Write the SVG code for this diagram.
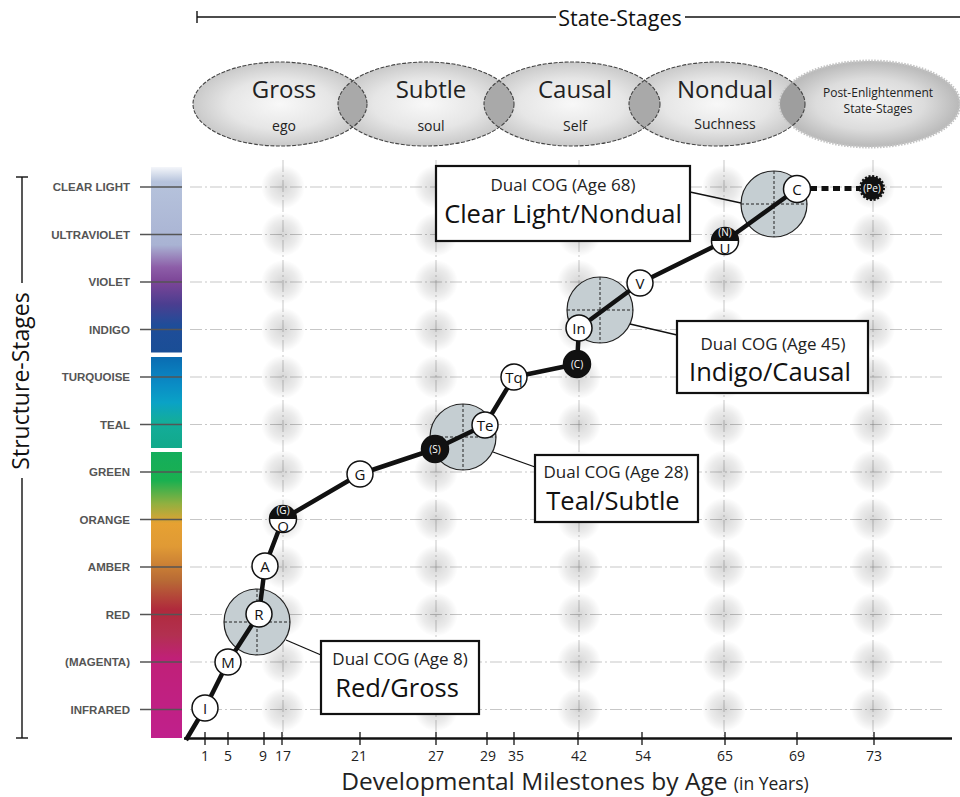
<svg xmlns="http://www.w3.org/2000/svg" xmlns:xlink="http://www.w3.org/1999/xlink" width="960" height="797" viewBox="0 0 960 797">
<style>
.ui{font-family:"Open Sans","Noto Sans","DejaVu Sans",sans-serif;}
.lbl{font-family:"Liberation Sans",Arial,sans-serif;font-weight:bold;font-size:11.5px;fill:#555;text-anchor:end;}
.grid{stroke:#9a9a9a;stroke-width:0.8;stroke-dasharray:12 3 2 3;fill:none;opacity:0.7;}
.rowtick{stroke:#555;stroke-width:1.3;}
.ell{stroke:#444;stroke-width:1.1;stroke-dasharray:4 1.5;fill:none;}
.lens{fill:#a9a9a9;}
.big{fill:#c5ced2;stroke:#222;stroke-width:1.2;}
.cross{stroke:#222;stroke-width:1;stroke-dasharray:3 2;fill:none;}
.wn{fill:#fff;stroke:#111;stroke-width:1.5;}
.bn{fill:#111;stroke:#111;stroke-width:1.5;}
.nt{font-family:"Open Sans","Noto Sans",sans-serif;font-size:15px;fill:#111;text-anchor:middle;}
.nb{font-family:"Open Sans","Noto Sans",sans-serif;font-size:10px;fill:#fff;text-anchor:middle;}
.box{fill:#fff;stroke:#111;stroke-width:2.2;}
.bs{font-family:"Open Sans","Noto Sans",sans-serif;font-size:17px;fill:#222;text-anchor:middle;}
.bl{font-family:"Open Sans","Noto Sans",sans-serif;font-size:25.5px;fill:#111;text-anchor:middle;}
.tk{stroke:#111;stroke-width:1.3;}
.tl{font-family:"Open Sans","Noto Sans",sans-serif;font-size:14px;fill:#222;text-anchor:middle;}
</style>
<defs>
<radialGradient id="ellG" cx="0.5" cy="0.5" r="0.5">
<stop offset="0" stop-color="#f8f8f8"/>
<stop offset="0.6" stop-color="#e6e6e6"/>
<stop offset="1" stop-color="#c9c9c9"/>
</radialGradient>
<radialGradient id="postG" cx="0.5" cy="0.5" r="0.5">
<stop offset="0" stop-color="#f4f4f4"/>
<stop offset="0.6" stop-color="#dcdcdc"/>
<stop offset="1" stop-color="#b8b8b8"/>
</radialGradient>
<radialGradient id="spotG" cx="0.5" cy="0.5" r="0.5">
<stop offset="0" stop-color="#000" stop-opacity="0.16"/>
<stop offset="0.6" stop-color="#000" stop-opacity="0.08"/>
<stop offset="1" stop-color="#000" stop-opacity="0"/>
</radialGradient>
<linearGradient id="bar1" x1="0" y1="0" x2="0" y2="1">
<stop offset="0" stop-color="#f4f6fa"/>
<stop offset="0.08" stop-color="#b6c3dc"/>
<stop offset="0.42" stop-color="#a9b3d3"/>
<stop offset="0.54" stop-color="#8d5ea8"/>
<stop offset="0.62" stop-color="#7c4597"/>
<stop offset="0.74" stop-color="#4b3e90"/>
<stop offset="0.85" stop-color="#1f4d99"/>
<stop offset="1" stop-color="#1a4e96"/>
</linearGradient>
<linearGradient id="bar2" x1="0" y1="0" x2="0" y2="1">
<stop offset="0" stop-color="#0a6cb2"/>
<stop offset="0.3" stop-color="#0a8cc5"/>
<stop offset="0.5" stop-color="#0aa2c6"/>
<stop offset="0.7" stop-color="#13ad9c"/>
<stop offset="1" stop-color="#12a98a"/>
</linearGradient>
<linearGradient id="bar3" x1="0" y1="0" x2="0" y2="1">
<stop offset="0" stop-color="#14ad5c"/>
<stop offset="0.1" stop-color="#1ab050"/>
<stop offset="0.18" stop-color="#90b040"/>
<stop offset="0.25" stop-color="#e6a132"/>
<stop offset="0.33" stop-color="#e09a35"/>
<stop offset="0.45" stop-color="#b86a35"/>
<stop offset="0.55" stop-color="#b02a3c"/>
<stop offset="0.64" stop-color="#b23050"/>
<stop offset="0.72" stop-color="#c02077"/>
<stop offset="1" stop-color="#c0208c"/>
</linearGradient>
<clipPath id="cGross"><ellipse cx="280" cy="104" rx="87" ry="42"/></clipPath>
<clipPath id="cSubtle"><ellipse cx="426" cy="104" rx="88" ry="42"/></clipPath>
<clipPath id="cCausal"><ellipse cx="572" cy="104" rx="88" ry="42"/></clipPath>
<clipPath id="cNondual"><ellipse cx="717" cy="104" rx="88" ry="42"/></clipPath>
<circle id="spot" r="22" fill="url(#spotG)"/>
</defs>

<rect width="960" height="797" fill="#fff"/>

<!-- Header -->
<g id="state-stages-header">
<line x1="197" y1="17" x2="556" y2="17" stroke="#111" stroke-width="1.4"/>
<line x1="197" y1="11" x2="197" y2="23" stroke="#111" stroke-width="1.4"/>
<line x1="685" y1="17" x2="960" y2="17" stroke="#111" stroke-width="1.4"/>
<text x="620" y="26" class="ui" font-size="21.5" text-anchor="middle" fill="#111">State-Stages</text>
</g>

<g id="state-ellipses">
<ellipse cx="280" cy="104" rx="87" ry="42" fill="url(#ellG)"/>
<ellipse cx="426" cy="104" rx="88" ry="42" fill="url(#ellG)"/>
<ellipse cx="572" cy="104" rx="88" ry="42" fill="url(#ellG)"/>
<ellipse cx="717" cy="104" rx="88" ry="42" fill="url(#ellG)"/>
<ellipse cx="870" cy="104" rx="90" ry="43" fill="url(#postG)" stroke="#c4c4c4" stroke-width="3" stroke-dasharray="1.5 1.5"/>
<ellipse cx="426" cy="104" rx="88" ry="42" class="lens" clip-path="url(#cGross)"/>
<ellipse cx="572" cy="104" rx="88" ry="42" class="lens" clip-path="url(#cSubtle)"/>
<ellipse cx="717" cy="104" rx="88" ry="42" class="lens" clip-path="url(#cCausal)"/>
<ellipse cx="870" cy="104" rx="90" ry="43" fill="#9e9e9e" clip-path="url(#cNondual)"/>
<ellipse cx="280" cy="104" rx="87" ry="42" class="ell"/>
<ellipse cx="426" cy="104" rx="88" ry="42" class="ell"/>
<ellipse cx="572" cy="104" rx="88" ry="42" class="ell"/>
<ellipse cx="717" cy="104" rx="88" ry="42" class="ell"/>
</g>
<g id="ell-gross"><text x="284" y="98" class="ui" font-size="24" text-anchor="middle" fill="#222">Gross</text><text x="284" y="131" class="ui" font-size="14" text-anchor="middle" fill="#222">ego</text></g>
<g id="ell-subtle"><text x="431" y="98" class="ui" font-size="24" text-anchor="middle" fill="#222">Subtle</text><text x="431" y="131" class="ui" font-size="14" text-anchor="middle" fill="#222">soul</text></g>
<g id="ell-causal"><text x="575" y="98" class="ui" font-size="24" text-anchor="middle" fill="#222">Causal</text><text x="575" y="131" class="ui" font-size="14" text-anchor="middle" fill="#222">Self</text></g>
<g id="ell-nondual"><text x="725" y="98" class="ui" font-size="24" text-anchor="middle" fill="#222">Nondual</text><text x="725" y="129" class="ui" font-size="14" text-anchor="middle" fill="#222">Suchness</text></g>
<g id="ell-post"><text x="878" y="97" class="ui" font-size="12" text-anchor="middle" fill="#222">Post-Enlightenment</text><text x="878" y="113" class="ui" font-size="12" text-anchor="middle" fill="#222">State-Stages</text></g>

<!-- Structure-Stages label -->
<g id="structure-stages-label">
<line x1="22" y1="177" x2="22" y2="283" stroke="#111" stroke-width="1.4"/>
<line x1="22" y1="478" x2="22" y2="738" stroke="#111" stroke-width="1.4"/>
<line x1="16" y1="177" x2="28" y2="177" stroke="#111" stroke-width="1.4"/>
<line x1="16" y1="738" x2="28" y2="738" stroke="#111" stroke-width="1.4"/>
<text transform="translate(29,381) rotate(-90)" class="ui" font-size="23" text-anchor="middle" fill="#111">Structure-Stages</text>
</g>

<!-- Color bar -->
<g id="color-bar">
<rect x="151" y="167" width="31" height="185.5" fill="url(#bar1)"/>
<rect x="151" y="357" width="31" height="91" fill="url(#bar2)"/>
<rect x="151" y="452" width="31" height="286" fill="url(#bar3)"/>
</g>

<!-- Grid -->
<g id="grid">
<line x1="190" y1="187" x2="945" y2="187" class="grid"/>
<line x1="190" y1="234.5" x2="945" y2="234.5" class="grid"/>
<line x1="190" y1="282" x2="945" y2="282" class="grid"/>
<line x1="190" y1="329.5" x2="945" y2="329.5" class="grid"/>
<line x1="190" y1="377" x2="945" y2="377" class="grid"/>
<line x1="190" y1="424.5" x2="945" y2="424.5" class="grid"/>
<line x1="190" y1="472" x2="945" y2="472" class="grid"/>
<line x1="190" y1="519.5" x2="945" y2="519.5" class="grid"/>
<line x1="190" y1="567" x2="945" y2="567" class="grid"/>
<line x1="190" y1="614.5" x2="945" y2="614.5" class="grid"/>
<line x1="190" y1="662" x2="945" y2="662" class="grid"/>
<line x1="190" y1="709.5" x2="945" y2="709.5" class="grid"/>
<line x1="283" y1="160" x2="283" y2="736" class="grid"/>
<line x1="436" y1="160" x2="436" y2="736" class="grid"/>
<line x1="579" y1="160" x2="579" y2="736" class="grid"/>
<line x1="724" y1="160" x2="724" y2="736" class="grid"/>
<line x1="873" y1="160" x2="873" y2="736" class="grid"/>
</g>
<g id="spots">
<use xlink:href="#spot" x="283" y="187"/><use xlink:href="#spot" x="436" y="187"/><use xlink:href="#spot" x="579" y="187"/><use xlink:href="#spot" x="724" y="187"/><use xlink:href="#spot" x="873" y="187"/>
<use xlink:href="#spot" x="283" y="234.5"/><use xlink:href="#spot" x="436" y="234.5"/><use xlink:href="#spot" x="579" y="234.5"/><use xlink:href="#spot" x="724" y="234.5"/><use xlink:href="#spot" x="873" y="234.5"/>
<use xlink:href="#spot" x="283" y="282"/><use xlink:href="#spot" x="436" y="282"/><use xlink:href="#spot" x="579" y="282"/><use xlink:href="#spot" x="724" y="282"/><use xlink:href="#spot" x="873" y="282"/>
<use xlink:href="#spot" x="283" y="329.5"/><use xlink:href="#spot" x="436" y="329.5"/><use xlink:href="#spot" x="579" y="329.5"/><use xlink:href="#spot" x="724" y="329.5"/><use xlink:href="#spot" x="873" y="329.5"/>
<use xlink:href="#spot" x="283" y="377"/><use xlink:href="#spot" x="436" y="377"/><use xlink:href="#spot" x="579" y="377"/><use xlink:href="#spot" x="724" y="377"/><use xlink:href="#spot" x="873" y="377"/>
<use xlink:href="#spot" x="283" y="424.5"/><use xlink:href="#spot" x="436" y="424.5"/><use xlink:href="#spot" x="579" y="424.5"/><use xlink:href="#spot" x="724" y="424.5"/><use xlink:href="#spot" x="873" y="424.5"/>
<use xlink:href="#spot" x="283" y="472"/><use xlink:href="#spot" x="436" y="472"/><use xlink:href="#spot" x="579" y="472"/><use xlink:href="#spot" x="724" y="472"/><use xlink:href="#spot" x="873" y="472"/>
<use xlink:href="#spot" x="283" y="519.5"/><use xlink:href="#spot" x="436" y="519.5"/><use xlink:href="#spot" x="579" y="519.5"/><use xlink:href="#spot" x="724" y="519.5"/><use xlink:href="#spot" x="873" y="519.5"/>
<use xlink:href="#spot" x="283" y="567"/><use xlink:href="#spot" x="436" y="567"/><use xlink:href="#spot" x="579" y="567"/><use xlink:href="#spot" x="724" y="567"/><use xlink:href="#spot" x="873" y="567"/>
<use xlink:href="#spot" x="283" y="614.5"/><use xlink:href="#spot" x="436" y="614.5"/><use xlink:href="#spot" x="579" y="614.5"/><use xlink:href="#spot" x="724" y="614.5"/><use xlink:href="#spot" x="873" y="614.5"/>
<use xlink:href="#spot" x="283" y="662"/><use xlink:href="#spot" x="436" y="662"/><use xlink:href="#spot" x="579" y="662"/><use xlink:href="#spot" x="724" y="662"/><use xlink:href="#spot" x="873" y="662"/>
<use xlink:href="#spot" x="283" y="709.5"/><use xlink:href="#spot" x="436" y="709.5"/><use xlink:href="#spot" x="579" y="709.5"/><use xlink:href="#spot" x="724" y="709.5"/><use xlink:href="#spot" x="873" y="709.5"/>
</g>

<!-- Row labels -->
<g id="row-labels">
<line x1="140" y1="187" x2="182" y2="187" class="rowtick"/><text x="130" y="191" class="lbl">CLEAR LIGHT</text>
<line x1="140" y1="234.5" x2="182" y2="234.5" class="rowtick"/><text x="130" y="238.5" class="lbl">ULTRAVIOLET</text>
<line x1="140" y1="282" x2="182" y2="282" class="rowtick"/><text x="130" y="286" class="lbl">VIOLET</text>
<line x1="140" y1="329.5" x2="182" y2="329.5" class="rowtick"/><text x="130" y="333.5" class="lbl">INDIGO</text>
<line x1="140" y1="377" x2="182" y2="377" class="rowtick"/><text x="130" y="381" class="lbl">TURQUOISE</text>
<line x1="140" y1="424.5" x2="182" y2="424.5" class="rowtick"/><text x="130" y="428.5" class="lbl">TEAL</text>
<line x1="140" y1="472" x2="182" y2="472" class="rowtick"/><text x="130" y="476" class="lbl">GREEN</text>
<line x1="140" y1="519.5" x2="182" y2="519.5" class="rowtick"/><text x="130" y="523.5" class="lbl">ORANGE</text>
<line x1="140" y1="567" x2="182" y2="567" class="rowtick"/><text x="130" y="571" class="lbl">AMBER</text>
<line x1="140" y1="614.5" x2="182" y2="614.5" class="rowtick"/><text x="130" y="618.5" class="lbl">RED</text>
<line x1="140" y1="662" x2="182" y2="662" class="rowtick"/><text x="130" y="666" class="lbl">(MAGENTA)</text>
<line x1="140" y1="709.5" x2="182" y2="709.5" class="rowtick"/><text x="130" y="713.5" class="lbl">INFRARED</text>
</g>

<!-- Axis -->
<g id="axis">
<line x1="184" y1="738.5" x2="952" y2="738.5" stroke="#111" stroke-width="2.6"/>
<line x1="205" y1="732" x2="205" y2="745" class="tk"/><text x="205" y="761" class="tl">1</text>
<line x1="228" y1="732" x2="228" y2="745" class="tk"/><text x="228" y="761" class="tl">5</text>
<line x1="264" y1="732" x2="264" y2="745" class="tk"/><text x="263" y="761" class="tl">9</text>
<line x1="282" y1="732" x2="282" y2="745" class="tk"/><text x="283" y="761" class="tl">17</text>
<line x1="360" y1="732" x2="360" y2="745" class="tk"/><text x="359" y="761" class="tl">21</text>
<line x1="436" y1="732" x2="436" y2="745" class="tk"/><text x="436" y="761" class="tl">27</text>
<line x1="487" y1="732" x2="487" y2="745" class="tk"/><text x="488" y="761" class="tl">29</text>
<line x1="514" y1="732" x2="514" y2="745" class="tk"/><text x="516" y="761" class="tl">35</text>
<line x1="578" y1="732" x2="578" y2="745" class="tk"/><text x="579" y="761" class="tl">42</text>
<line x1="642" y1="732" x2="642" y2="745" class="tk"/><text x="643" y="761" class="tl">54</text>
<line x1="725" y1="732" x2="725" y2="745" class="tk"/><text x="725" y="761" class="tl">65</text>
<line x1="797" y1="732" x2="797" y2="745" class="tk"/><text x="797" y="761" class="tl">69</text>
<line x1="874" y1="732" x2="874" y2="745" class="tk"/><text x="874" y="761" class="tl">73</text>
<text x="575" y="790" class="ui" font-size="24.5" text-anchor="middle" fill="#222">Developmental Milestones by Age <tspan font-size="17.5">(in Years)</tspan></text>
</g>

<!-- Dual COG circles -->
<g id="cog-red"><circle cx="257" cy="622" r="33" class="big"/><line x1="224" y1="622" x2="290" y2="622" class="cross"/><line x1="257" y1="589" x2="257" y2="655" class="cross"/></g>
<g id="cog-teal"><circle cx="463" cy="437" r="33" class="big"/><line x1="430" y1="437" x2="496" y2="437" class="cross"/><line x1="463" y1="404" x2="463" y2="470" class="cross"/></g>
<g id="cog-indigo"><circle cx="600" cy="310" r="33" class="big"/><line x1="567" y1="310" x2="633" y2="310" class="cross"/><line x1="600" y1="277" x2="600" y2="343" class="cross"/></g>
<g id="cog-clear"><circle cx="774" cy="204" r="33" class="big"/><line x1="741" y1="204" x2="807" y2="204" class="cross"/><line x1="774" y1="171" x2="774" y2="237" class="cross"/></g>

<!-- Connectors -->
<g id="connectors" fill="none">
<polyline points="186,740 205,708 228,662 259,614 265,566 283,519 360,474 435,449 485,425 514,377 577,364 579,328 640,283 725,241 797,189" stroke="#111" stroke-width="4.5" stroke-linejoin="round"/>
<line x1="810" y1="188.5" x2="860" y2="188.5" stroke="#111" stroke-width="5" stroke-dasharray="7 4.5"/>
<line x1="286" y1="640" x2="321" y2="655" stroke="#111" stroke-width="1.3"/>
<line x1="493" y1="452" x2="535" y2="467" stroke="#111" stroke-width="1.3"/>
<line x1="630" y1="324" x2="677" y2="335" stroke="#111" stroke-width="1.3"/>
<line x1="690" y1="192" x2="741" y2="203" stroke="#111" stroke-width="1.3"/>
</g>

<!-- Nodes -->
<g id="node-I"><circle cx="205" cy="708" r="13" class="wn"/><text x="205" y="713.5" class="nt">I</text></g>
<g id="node-M"><circle cx="228" cy="662" r="13" class="wn"/><text x="228" y="667.5" class="nt">M</text></g>
<g id="node-R"><circle cx="259" cy="614" r="13" class="wn"/><text x="259" y="619.5" class="nt">R</text></g>
<g id="node-A"><circle cx="265" cy="566" r="13" class="wn"/><text x="265" y="571.5" class="nt">A</text></g>
<g id="node-GO"><circle cx="283" cy="519" r="13.5" class="wn"/><path d="M269.5,519 A13.5,13.5 0 0 1 296.5,519 Z" fill="#111"/><text x="283" y="513.5" class="nb" font-size="8">(G)</text><text x="283" y="531.5" class="nt" font-size="9.5">O</text></g>
<g id="node-G"><circle cx="360" cy="474" r="13" class="wn"/><text x="360" y="479.5" class="nt">G</text></g>
<g id="node-S"><circle cx="435" cy="449" r="13.5" class="bn"/><text x="435" y="453" class="nb" font-size="11">(S)</text></g>
<g id="node-Te"><circle cx="485" cy="425" r="13" class="wn"/><text x="485" y="430.5" class="nt">Te</text></g>
<g id="node-Tq"><circle cx="514" cy="377" r="13" class="wn"/><text x="514" y="382.5" class="nt">Tq</text></g>
<g id="node-C-causal"><circle cx="577" cy="364" r="13.5" class="bn"/><text x="577" y="368" class="nb" font-size="11">(C)</text></g>
<g id="node-In"><circle cx="579" cy="328" r="13" class="wn"/><text x="579" y="333.5" class="nt">In</text></g>
<g id="node-V"><circle cx="640" cy="283" r="13" class="wn"/><text x="640" y="288.5" class="nt">V</text></g>
<g id="node-NU"><circle cx="725" cy="241" r="13.5" class="wn"/><path d="M711.5,241 A13.5,13.5 0 0 1 738.5,241 Z" fill="#111"/><text x="725" y="235.5" class="nb" font-size="8">(N)</text><text x="725" y="253.5" class="nt" font-size="9.5">U</text></g>
<g id="node-C"><circle cx="797" cy="189" r="13.5" class="wn"/><text x="797" y="195" class="nt" font-size="16">C</text></g>
<g id="node-Pe"><circle cx="872" cy="188" r="11.5" fill="#111" stroke="#111" stroke-width="3" stroke-dasharray="2 1.6"/><text x="872" y="192" class="nb" font-size="10">(Pe)</text></g>

<!-- Label boxes -->
<g id="box-red"><rect x="321" y="641" width="158" height="73" class="box"/><text x="400" y="665" class="bs">Dual COG (Age 8)</text><text x="397" y="697" class="bl">Red/Gross</text></g>
<g id="box-teal"><rect x="535" y="455" width="163" height="67" class="box"/><text x="616" y="478" class="bs">Dual COG (Age 28)</text><text x="613" y="510" class="bl">Teal/Subtle</text></g>
<g id="box-indigo"><rect x="677" y="321" width="191" height="72" class="box"/><text x="773" y="350" class="bs">Dual COG (Age 45)</text><text x="770" y="381" class="bl">Indigo/Causal</text></g>
<g id="box-clear"><rect x="436" y="166" width="254" height="75" class="box"/><text x="563" y="191" class="bs">Dual COG (Age 68)</text><text x="563" y="223" class="bl">Clear Light/Nondual</text></g>
</svg>
